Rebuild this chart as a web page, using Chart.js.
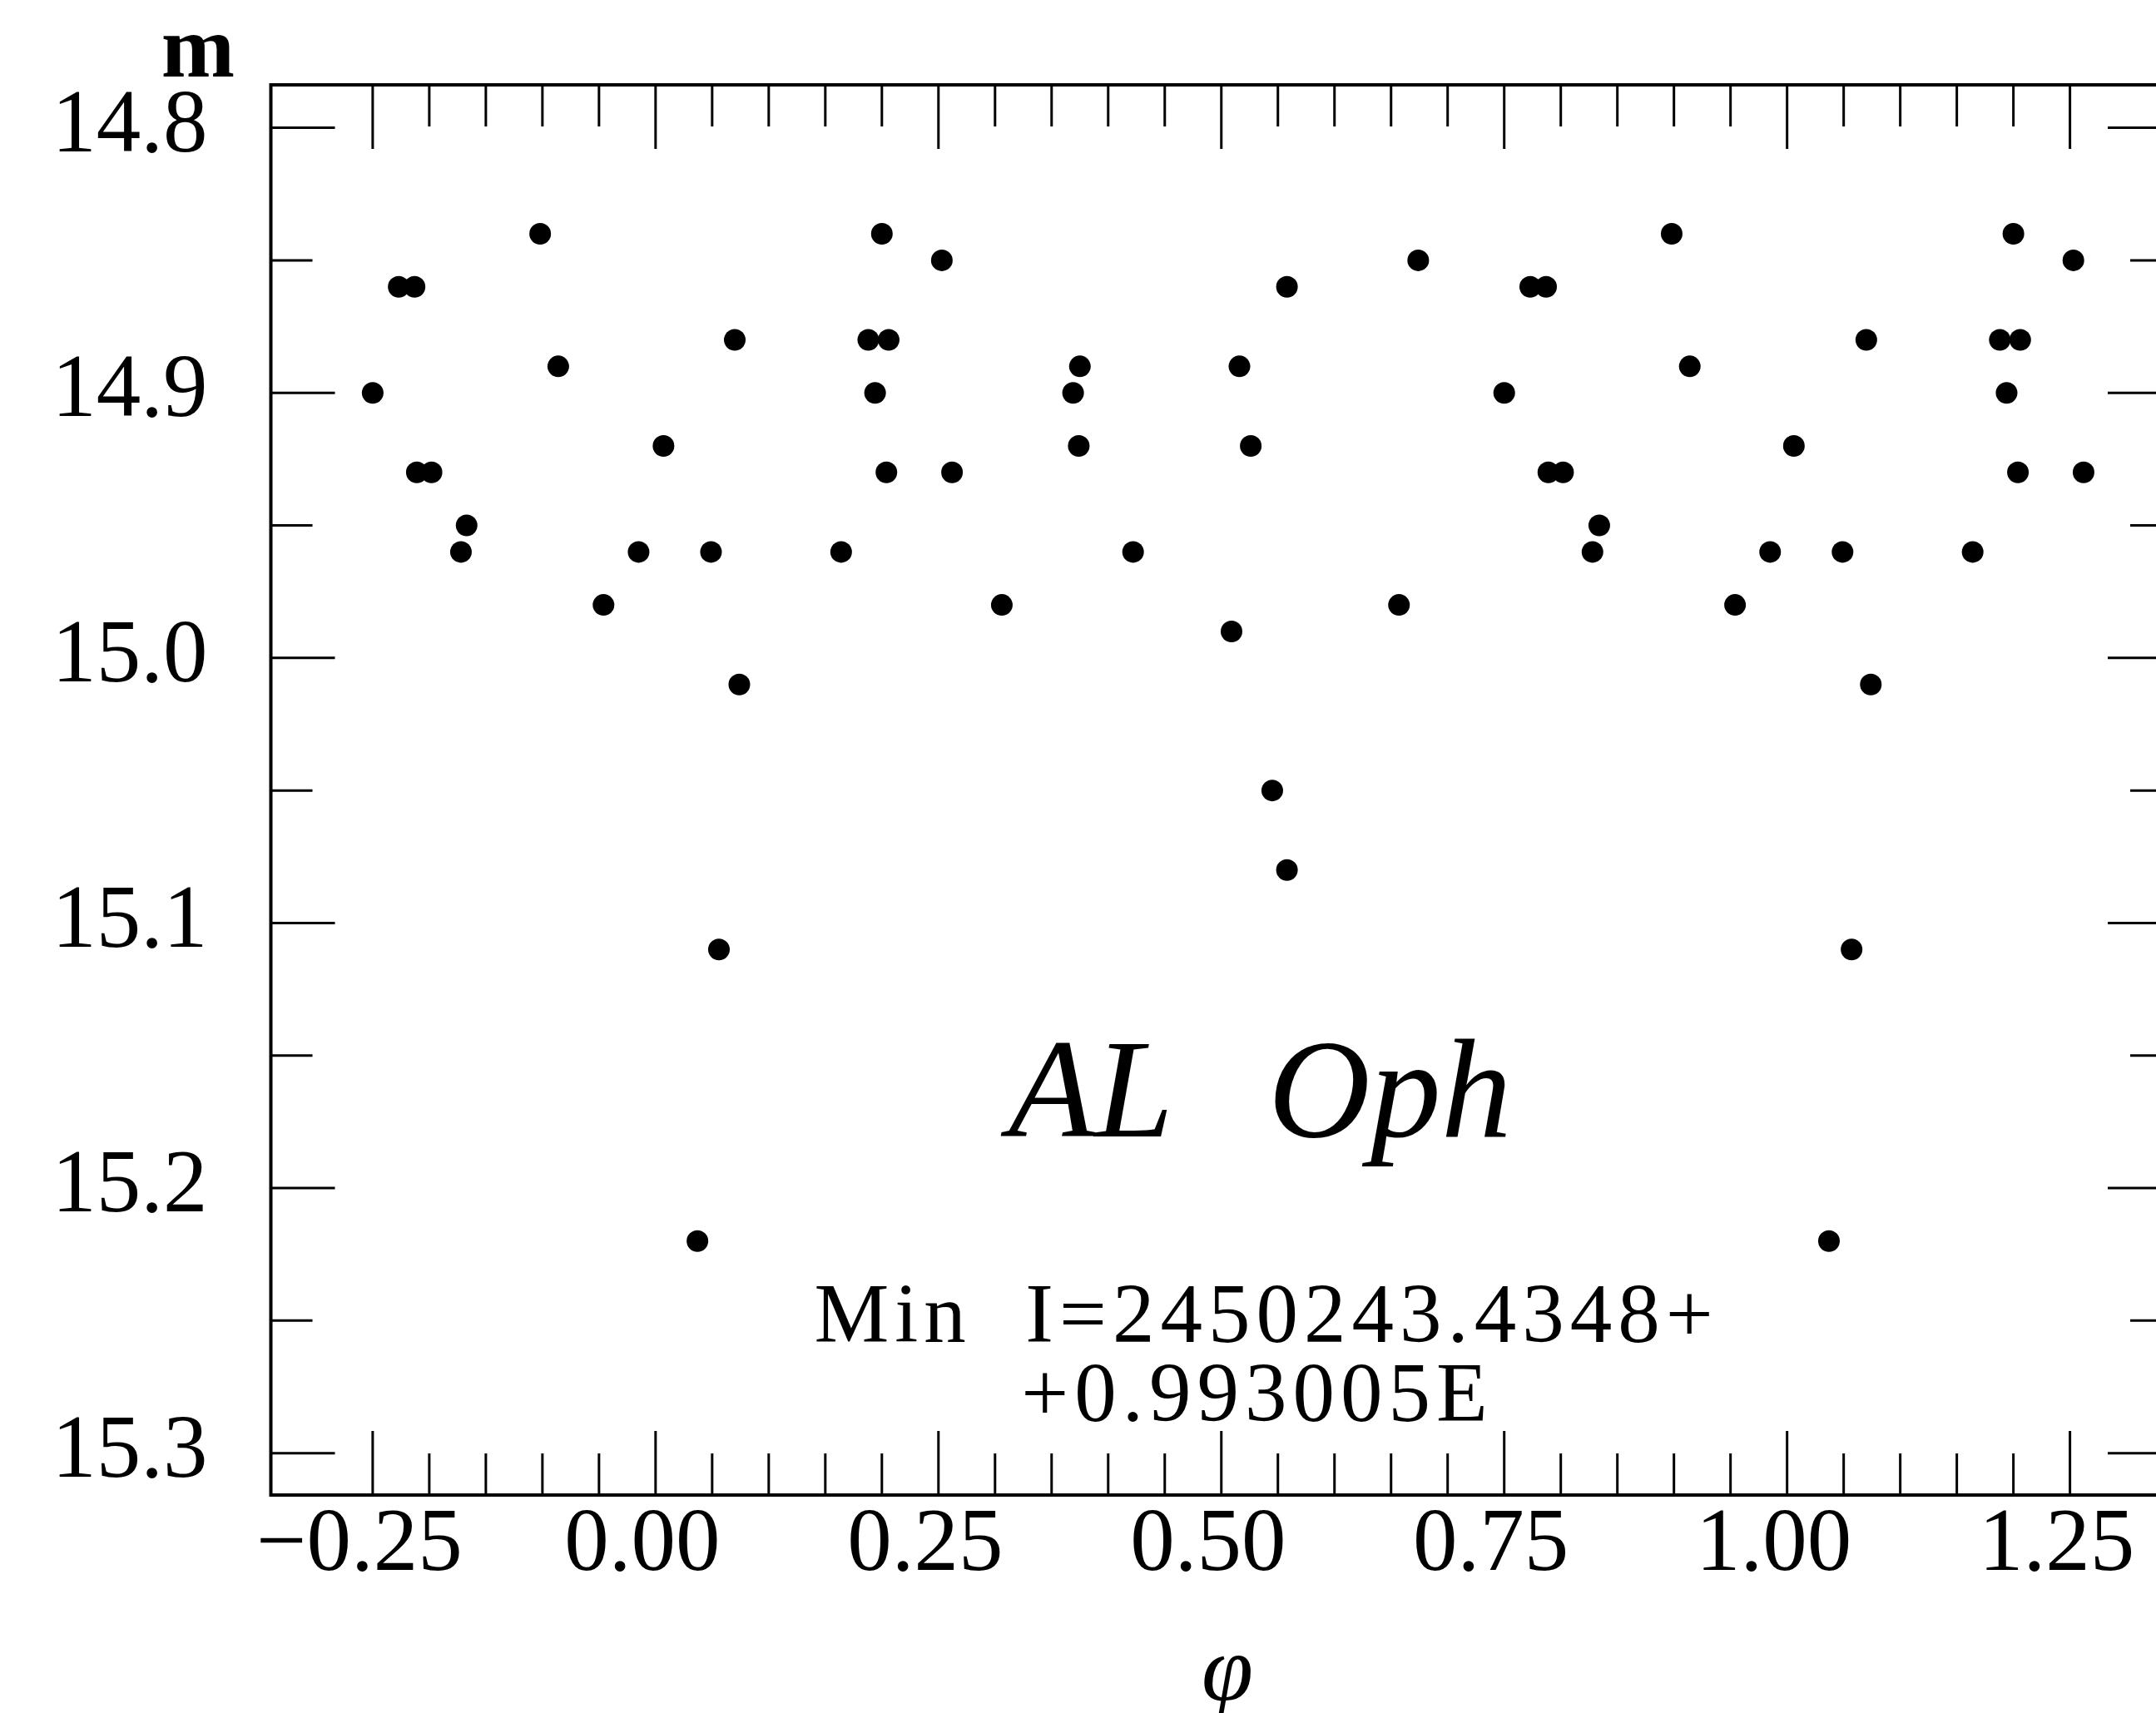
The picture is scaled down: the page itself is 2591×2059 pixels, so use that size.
<!DOCTYPE html>
<html>
<head>
<meta charset="utf-8">
<script src="https://cdn.jsdelivr.net/npm/chart.js@4.4.1/dist/chart.umd.min.js"></script>
<style>
  html, body { margin: 0; padding: 0; background: #fff; overflow: hidden; }
  #wrap { width: 2640px; height: 2059px; position: relative; }
</style>
</head>
<body>
<div id="wrap"><canvas id="myChart"></canvas></div>
<script>
// phase (x) and magnitude (y) of every plotted observation
let phase = [
  -0.250, -0.227, -0.213, -0.211, -0.198, -0.172, -0.167, -0.102, -0.086, -0.046,
  -0.015, 0.007, 0.037, 0.049, 0.056, 0.070, 0.074, 0.164, 0.188, 0.194,
  0.200, 0.204, 0.206, 0.253, 0.262,
  0.306, 0.369, 0.374, 0.375, 0.422, 0.509, 0.516, 0.526, 0.545, 0.558,
  0.558, 0.657, 0.674,
  0.750, 0.773, 0.787, 0.789, 0.802, 0.828, 0.834, 0.898, 0.914, 0.954,
  0.985, 1.006, 1.037, 1.049, 1.057, 1.070, 1.074, 1.164, 1.188, 1.194,
  1.200, 1.204, 1.206, 1.253, 1.262
];
let mag = [
  14.90, 14.86, 14.86, 14.93, 14.93, 14.96, 14.95, 14.84, 14.89, 14.98,
  14.96, 14.92, 15.22, 14.96, 15.11, 14.88, 15.01, 14.96, 14.88, 14.90,
  14.84, 14.93, 14.88, 14.85, 14.93,
  14.98, 14.90, 14.92, 14.89, 14.96, 14.99, 14.89, 14.92, 15.05, 14.86,
  15.08, 14.98, 14.85,
  14.90, 14.86, 14.86, 14.93, 14.93, 14.96, 14.95, 14.84, 14.89, 14.98,
  14.96, 14.92, 15.22, 14.96, 15.11, 14.88, 15.01, 14.96, 14.88, 14.90,
  14.84, 14.93, 14.88, 14.85, 14.93
];

// axis ranges and tick steps
let xRange = [-0.34, 1.34];
let yRange = [14.7838, 15.3158];
let xTickRange = [-0.25, 1.25];
let xMinorStep = 0.05, xMajorStep = 0.25;
let yMinorStep = 0.05, yMajorStep = 0.1;

let starName = ["AL", "Oph"];
let ephemeris = ["Min  I=2450243.4348+", "+0.993005E"];

const serif = '"Liberation Serif", "Times New Roman", serif';

function onStep(v, step) {
  return Math.abs(v / step - Math.round(v / step)) < 1e-6;
}

// frame with inward ticks on all four sides, like the original plot
const frameTicks = {
  id: "frameTicks",
  beforeDatasetsDraw(chart) {
    const ctx = chart.ctx;
    const a = chart.chartArea;
    const x = chart.scales.x;
    const y = chart.scales.y;
    ctx.save();
    ctx.strokeStyle = "#000";
    ctx.lineWidth = 3;
    ctx.beginPath();
    x.ticks.forEach((t) => {
      if (t.value < xTickRange[0] - 1e-6 || t.value > xTickRange[1] + 1e-6) return;
      let px = x.getPixelForValue(t.value);
      let len = onStep(t.value, xMajorStep) ? 77 : 50;
      ctx.moveTo(px, a.bottom);
      ctx.lineTo(px, a.bottom - len);
      ctx.moveTo(px, a.top);
      ctx.lineTo(px, a.top + len);
    });
    y.ticks.forEach((t) => {
      let py = y.getPixelForValue(t.value);
      let len = onStep(t.value, yMajorStep) ? 77 : 50;
      ctx.moveTo(a.left, py);
      ctx.lineTo(a.left + len, py);
      ctx.moveTo(a.right, py);
      ctx.lineTo(a.right - len, py);
    });
    ctx.stroke();
    ctx.lineWidth = 4;
    ctx.strokeRect(a.left, a.top, a.right - a.left, a.bottom - a.top);
    ctx.restore();
  },
};

// axis names and the star annotation
const labels = {
  id: "labels",
  afterDraw(chart) {
    const ctx = chart.ctx;
    ctx.save();
    ctx.fillStyle = "#000";
    ctx.textBaseline = "alphabetic";

    ctx.font = "bold 106px " + serif;
    ctx.textAlign = "center";
    ctx.fillText("m", 238, 92);

    ctx.font = "italic 112px " + serif;
    ctx.fillText("φ", 1475, 2043);

    ctx.font = "italic 170px " + serif;
    ctx.textAlign = "left";
    ctx.fillText(starName[0], 1212, 1366);
    ctx.fillText(starName[1], 1524, 1366);

    ctx.font = "101px " + serif;
    ctx.letterSpacing = "7px";
    ctx.textAlign = "center";
    ctx.fillText(ephemeris[0], 1522, 1613);
    ctx.fillText(ephemeris[1], 1511, 1708);
    ctx.restore();
  },
};

var ctx = document.getElementById("myChart");

var myChart = new Chart(ctx, {
  type: "scatter",
  data: {
    datasets: [
      {
        data: phase.map((p, i) => ({ x: p, y: mag[i] })),
        backgroundColor: "#000",
        borderWidth: 0,
        pointRadius: 13,
        pointHoverRadius: 13,
      },
    ],
  },
  options: {
    responsive: true,
    maintainAspectRatio: false,
    devicePixelRatio: 1,
    animation: false,
    events: [],
    layout: {
      padding: { left: 0, top: 102, right: 30, bottom: 0 },
    },
    plugins: {
      legend: { display: false },
      tooltip: { enabled: false },
    },
    scales: {
      x: {
        type: "linear",
        min: xRange[0],
        max: xRange[1],
        grid: { display: false, drawTicks: false },
        border: { display: false },
        afterFit: (scale) => {
          scale.height = 262;
          scale.paddingLeft = 0;
          scale.paddingRight = 0;
        },
        ticks: {
          stepSize: xMinorStep,
          includeBounds: false,
          autoSkip: false,
          maxRotation: 0,
          padding: 8,
          labelOffset: -16,
          color: "#000",
          font: { family: serif, size: 107, lineHeight: 1 },
          callback: (v) => {
            if (!onStep(v, xMajorStep)) return "";
            let s = Math.abs(v).toFixed(2);
            return v < -1e-9 ? "\u2212" + s : s;
          },
        },
      },
      y: {
        type: "linear",
        reverse: true,
        min: yRange[0],
        max: yRange[1],
        grid: { display: false, drawTicks: false },
        border: { display: false },
        afterFit: (scale) => {
          scale.width = 325.5;
          scale.paddingTop = 0;
          scale.paddingBottom = 0;
        },
        ticks: {
          stepSize: yMinorStep,
          includeBounds: false,
          autoSkip: false,
          padding: 76,
          color: "#000",
          font: { family: serif, size: 107, lineHeight: 1 },
          callback: (v) => (onStep(v, yMajorStep) ? v.toFixed(1) : ""),
        },
      },
    },
  },
  plugins: [frameTicks, labels],
});
</script>
</body>
</html>
